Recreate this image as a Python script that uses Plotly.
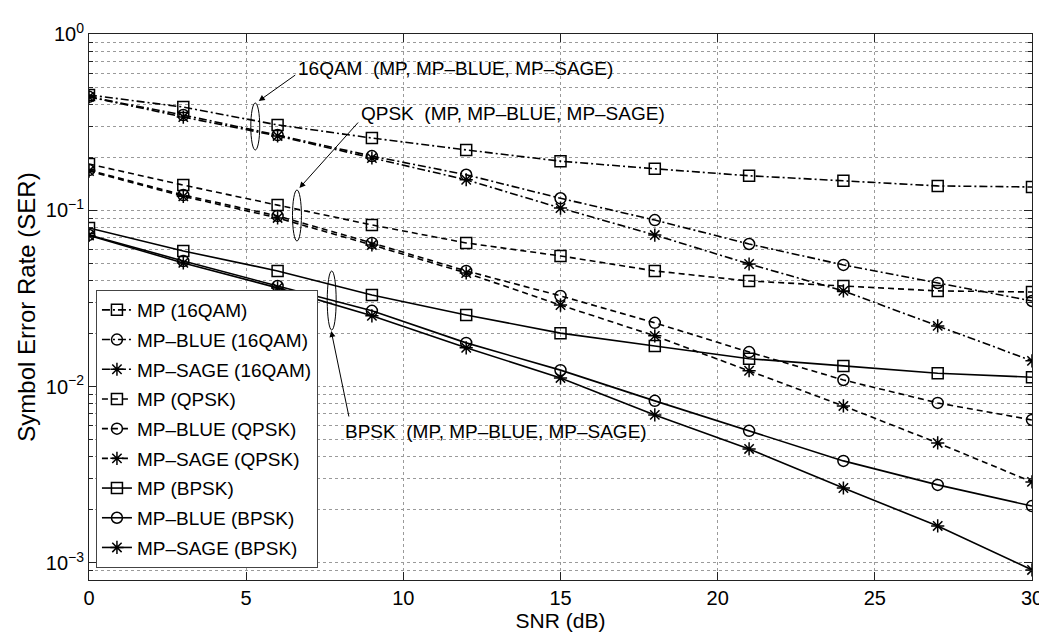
import plotly.graph_objects as go

# ---------------- data ----------------
snr_db = [0, 3, 6, 9, 12, 15, 18, 21, 24, 27, 30]

ser_mp_16qam = [0.451, 0.385, 0.305, 0.257, 0.220, 0.190, 0.172, 0.157, 0.147, 0.1375, 0.1356]
ser_blue_16qam = [0.440, 0.347, 0.267, 0.203, 0.159, 0.117, 0.088, 0.0644, 0.0490, 0.0387, 0.0306]
ser_sage_16qam = [0.440, 0.338, 0.264, 0.198, 0.149, 0.103, 0.0724, 0.0496, 0.0349, 0.0221, 0.0140]

ser_mp_qpsk = [0.183, 0.139, 0.107, 0.0826, 0.0653, 0.0551, 0.0453, 0.0397, 0.0372, 0.0349, 0.0344]
ser_blue_qpsk = [0.169, 0.122, 0.0929, 0.0653, 0.0453, 0.0327, 0.0230, 0.0157, 0.0109, 0.00808, 0.00647]
ser_sage_qpsk = [0.167, 0.120, 0.0905, 0.0636, 0.0441, 0.0290, 0.0194, 0.0123, 0.00777, 0.00479, 0.00288]

ser_mp_bpsk = [0.0794, 0.0588, 0.0453, 0.0331, 0.0255, 0.0201, 0.0170, 0.0144, 0.0131, 0.0119, 0.0113]
ser_blue_bpsk = [0.0725, 0.0516, 0.0372, 0.0269, 0.0177, 0.0124, 0.0083, 0.00561, 0.00379, 0.00277, 0.0021]
ser_sage_bpsk = [0.072, 0.0503, 0.0363, 0.0252, 0.0166, 0.0112, 0.00691, 0.00443, 0.00266, 0.00162, 0.000912]

series_names = [
    "MP (16QAM)", "MP\u2013BLUE (16QAM)", "MP\u2013SAGE (16QAM)",
    "MP (QPSK)", "MP\u2013BLUE (QPSK)", "MP\u2013SAGE (QPSK)",
    "MP (BPSK)", "MP\u2013BLUE (BPSK)", "MP\u2013SAGE (BPSK)",
]
series_values = [
    ser_mp_16qam, ser_blue_16qam, ser_sage_16qam,
    ser_mp_qpsk, ser_blue_qpsk, ser_sage_qpsk,
    ser_mp_bpsk, ser_blue_bpsk, ser_sage_bpsk,
]

x_tick_vals = [0, 5, 10, 15, 20, 25, 30]
y_tick_vals = [1, 0.1, 0.01, 0.001]
y_tick_text = ["10<sup>0</sup>", "10<sup>\u22121</sup>", "10<sup>\u22122</sup>", "10<sup>\u22123</sup>"]

annotation_labels = [
    "16QAM  (MP, MP\u2013BLUE, MP\u2013SAGE)",
    "QPSK  (MP, MP\u2013BLUE, MP\u2013SAGE)",
    "BPSK  (MP, MP\u2013BLUE, MP\u2013SAGE)",
]

# ---------------- styling ----------------
FONT = "Liberation Sans, Arial, Helvetica, sans-serif"
W, H = 1047, 640
ML, MR, MT, MB = 81, 16, 26, 68
PW, PH = W - ML - MR, H - MT - MB

def px_x(p):
    return (p - ML) / PW

def px_y(p):
    return (H - MB - p) / PH

dash_styles = ["8px,3px,2px,3px"] * 3 + ["6px,4px"] * 3 + ["solid"] * 3
symbols = ["square-open", "circle-open", "asterisk-open"] * 3

fig = go.Figure()
for i, (name, vals) in enumerate(zip(series_names, series_values)):
    fig.add_trace(go.Scatter(
        x=snr_db, y=vals, name=name, mode="lines+markers",
        legendgroup=f"g{i}",
        line=dict(color="black", width=1.6, dash=dash_styles[i]),
        marker=dict(symbol=symbols[i], size=11,
                    color="black", line=dict(color="black", width=1.5)),
    ))

minor_vals = []
for e in range(-4, 1):
    for k in range(2, 10):
        minor_vals.append(k * 10 ** e)

axis_common = dict(
    showline=True, linecolor="#222", linewidth=1, mirror="ticks",
    ticks="inside", tickcolor="#222", ticklen=8,
    showgrid=True, gridcolor="#9a9a9a", griddash="dot", gridwidth=1,
    zeroline=False,
    tickfont=dict(family=FONT, size=20, color="black"),
)

fig.update_xaxes(
    range=[0, 30], tickmode="array", tickvals=x_tick_vals,
    title=dict(text="SNR (dB)", font=dict(family=FONT, size=21, color="black"), standoff=2),
    **axis_common,
)
fig.update_yaxes(
    type="log", range=[-3.097, 0],
    tickmode="array", tickvals=y_tick_vals, ticktext=y_tick_text,
    minor=dict(tickmode="array", tickvals=minor_vals, ticks="inside", ticklen=4,
               tickcolor="#222", showgrid=True, gridcolor="#9a9a9a", griddash="dot", gridwidth=1),
    title=dict(text="Symbol Error Rate (SER)", font=dict(family=FONT, size=24, color="black"), standoff=3),
    **axis_common,
)

# annotation texts
text_pos = [(290, 60), (353, 105), (337, 423)]
for label, (tx, ty) in zip(annotation_labels, text_pos):
    fig.add_annotation(
        xref="paper", yref="paper", x=px_x(tx), y=px_y(ty),
        xanchor="left", yanchor="middle", text=label, showarrow=False,
        font=dict(family=FONT, size=19, color="black"),
    )

# arrows (head, tail in pixels)
arrows = [((252, 93), (290, 66)), ((293, 180), (353, 113)), ((325, 323), (343, 410))]
for (hx, hy), (tx, ty) in arrows:
    fig.add_annotation(
        xref="paper", yref="paper", x=px_x(hx), y=px_y(hy),
        ax=tx - hx, ay=ty - hy, text="", showarrow=True,
        arrowhead=2, arrowsize=1.2, arrowwidth=1, arrowcolor="black",
    )

# ellipses grouping curves
ellipses = [(244, 95, 253, 142), (286, 182, 295, 233), (321, 263, 330, 322)]
for x0, y0, x1, y1 in ellipses:
    fig.add_shape(type="circle", xref="paper", yref="paper",
                  x0=px_x(x0), x1=px_x(x1), y0=px_y(y1), y1=px_y(y0),
                  line=dict(color="black", width=1))

fig.update_layout(
    width=W, height=H,
    margin=dict(l=ML, r=MR, t=MT, b=MB),
    paper_bgcolor="white", plot_bgcolor="white",
    font=dict(family=FONT, color="black"),
    showlegend=True,
    legend=dict(
        x=px_x(88), y=px_y(282), xanchor="left", yanchor="top",
        bgcolor="white", bordercolor="#444", borderwidth=1,
        font=dict(family=FONT, size=19, color="black"),
        tracegroupgap=2, itemwidth=30,
    ),
)

fig.write_html("out.html")
